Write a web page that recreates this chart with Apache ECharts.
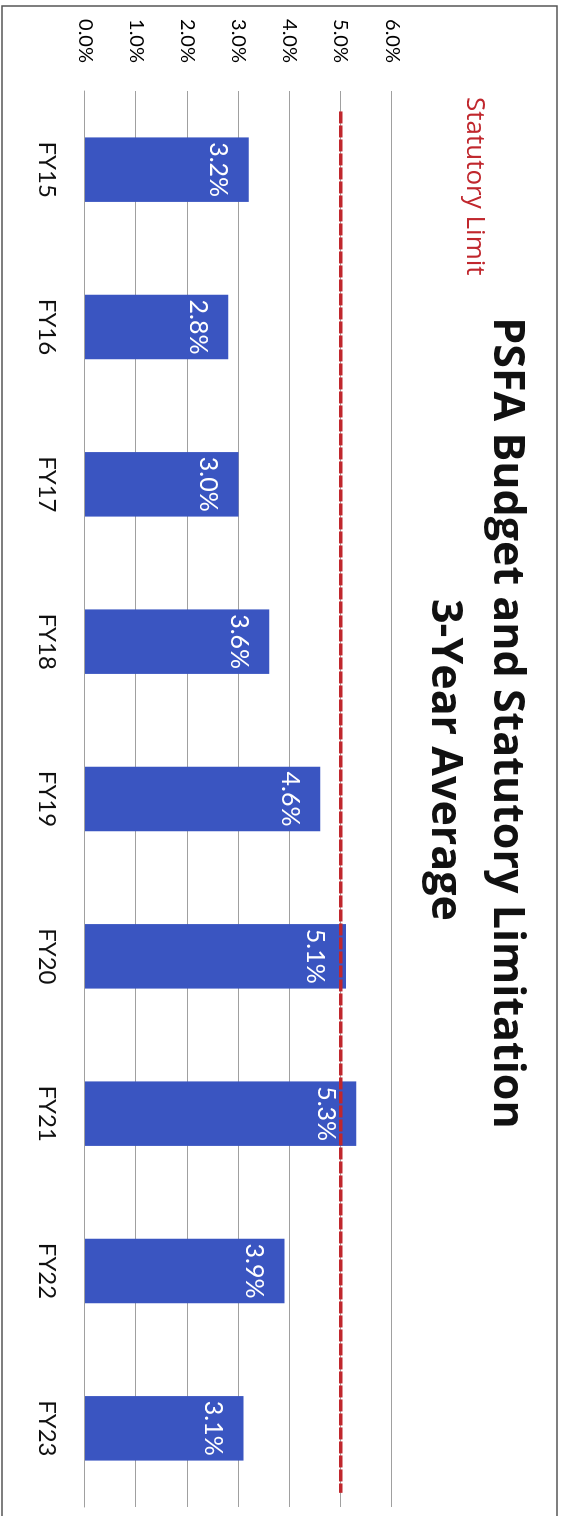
<!DOCTYPE html>
<html>
<head>
<meta charset="utf-8">
<script src="https://cdn.jsdelivr.net/npm/echarts@6/dist/echarts.min.js"></script>
<style>
  html, body { margin: 0; padding: 0; background: #ffffff; overflow: hidden; }
  body { width: 569px; height: 1516px; position: relative; }
  #chart {
    position: absolute; left: 0; top: 0;
    width: 1516px; height: 569px;
    transform-origin: 0 0;
    transform: translate(569px, 0) rotate(90deg);
  }
</style>
</head>
<body>
<div id="chart"></div>
<script>
// ---- data ----
const categories = ['FY15', 'FY16', 'FY17', 'FY18', 'FY19', 'FY20', 'FY21', 'FY22', 'FY23'];
const budgetAvg = [3.2, 2.8, 3.0, 3.6, 4.6, 5.1, 5.3, 3.9, 3.1];
const statutoryLimit = 5.0;
const limitSpan = [0.13, 8.91];           // start / end of the limit line, in category-band units
const valueTicks = [0, 1, 2, 3, 4, 5, 6];
const titleLines = ['PSFA Budget and Statutory Limitation', '3-Year Average'];
const limitLabel = 'Statutory Limit';

const FONT = 'Lato, "Open Sans", sans-serif';
const WIDE = '"Open Sans", Lato, sans-serif';
const chart = echarts.init(document.getElementById('chart'), null, { renderer: 'canvas', width: 1516, height: 569 });

chart.setOption({
  backgroundColor: '#ffffff',
  animation: false,
  title: [
    { text: titleLines[0], left: 723, textAlign: 'center', top: 41, padding: 0,
      textStyle: { fontFamily: WIDE, fontWeight: 'bold', fontSize: 43, color: '#111' } },
    { text: titleLines[1], left: 760, textAlign: 'center', top: 103, padding: 0,
      textStyle: { fontFamily: WIDE, fontWeight: 'bold', fontSize: 43, color: '#111' } },
    { text: limitLabel, left: 97, top: 82, padding: 0,
      textStyle: { fontFamily: WIDE, fontWeight: 'normal', fontSize: 26, color: '#c0272d' } }
  ],
  graphic: [
    { type: 'rect', shape: { x: 6, y: 12, width: 1540, height: 555 },
      style: { fill: 'none', stroke: '#555', lineWidth: 1.5 }, silent: true }
  ],
  grid: { left: 91, right: 9, top: 177, bottom: 85, containLabel: false },
  xAxis: [
    { type: 'category', data: categories, boundaryGap: true,
      axisLine: { show: true, lineStyle: { color: '#a0a0a0', width: 1 } },
      axisTick: { show: false },
      axisLabel: { fontFamily: FONT, fontSize: 24, color: '#111', margin: 26 } },
    { type: 'value', min: 0, max: categories.length, show: false }
  ],
  yAxis: {
    type: 'value', min: valueTicks[0], max: valueTicks[valueTicks.length - 1], interval: 1,
    axisLine: { show: false }, axisTick: { show: false },
    splitLine: { show: true, lineStyle: { color: '#a0a0a0', width: 1 } },
    axisLabel: { fontFamily: FONT, fontSize: 20, color: '#000', margin: 28,
      formatter: v => v.toFixed(1) + '%' }
  },
  series: [
    { type: 'bar', data: budgetAvg, barWidth: '41%', xAxisIndex: 0,
      itemStyle: { color: '#3a55c1' },
      label: { show: true, position: 'insideTop', distance: 18, color: '#ffffff',
        fontFamily: FONT, fontSize: 25, formatter: p => p.value.toFixed(1) + '%' } },
    { type: 'line', xAxisIndex: 1, symbol: 'none', z: 5,
      data: [[limitSpan[0], statutoryLimit], [limitSpan[1], statutoryLimit]],
      lineStyle: { color: '#c0272d', width: 3.5, type: [12, 2] } }
  ]
});
</script>
</body>
</html>
